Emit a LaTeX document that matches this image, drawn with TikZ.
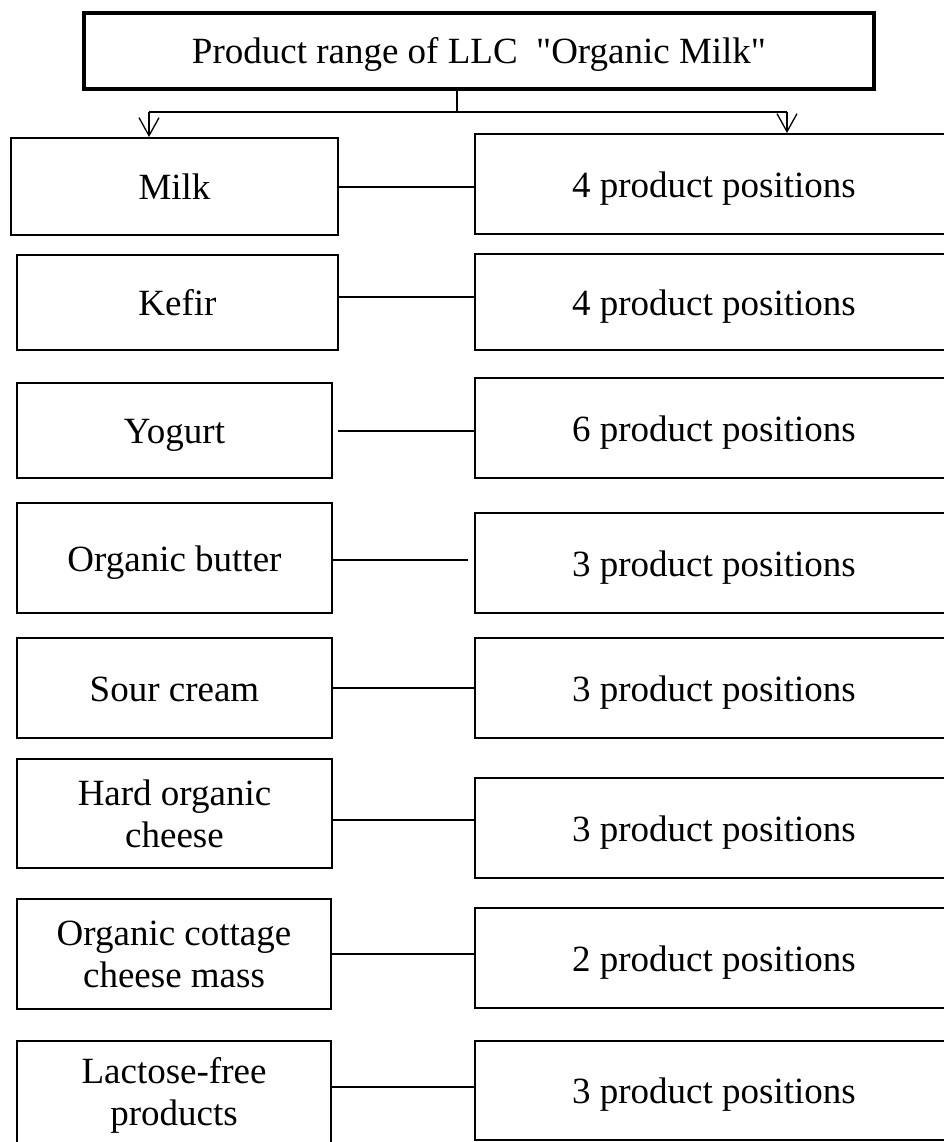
\documentclass[tikz,border=0pt]{standalone}
\usepackage{fontspec}
\setmainfont{Liberation Serif}[Ligatures=TeXOff]
\usetikzlibrary{arrows.meta}
\begin{document}
\begin{tikzpicture}[x=1pt,y=-1pt,
  every node/.style={font=\fontsize{37}{42}\selectfont, align=center, inner sep=0pt},
  oneline/.style={text height=26pt, text depth=0pt},
  box/.style={draw, line width=2pt},
  titlebox/.style={draw, line width=3.5pt, oneline},
  catbox/.style={box, minimum width=315pt},
  posbox/.style={box, oneline, minimum width=478pt, minimum height=100pt},
  link/.style={line width=1.3pt},
  arr/.style={link, -{Straight Barb[length=18pt,width=20pt]}}]
\useasboundingbox (0,0) rectangle (944,1142);
\clip (0,0) rectangle (944,1142);

% heading
\node[titlebox, minimum width=790pt, minimum height=76pt] (title) at (479,51)
  {Product range of LLC~~"Organic Milk"};

% product groups
\node[box, oneline, minimum width=327pt, minimum height=97pt] (milk) at (174.5,186.5) {Milk};
\node[box, oneline, minimum width=321pt, minimum height=95pt] (kefir) at (177.5,302.5) {Kefir};
\node[catbox, oneline, minimum height=95pt] (yogurt) at (174.5,430.5) {Yogurt};
\node[catbox, oneline, minimum height=110pt] (butter) at (174.5,558) {Organic butter};
\node[catbox, oneline, minimum height=100pt] (sour) at (174.5,688) {Sour cream};
\node[catbox, minimum height=109pt] (hard) at (174.5,813.5) {Hard organic\\cheese};
\node[catbox, minimum width=314pt, minimum height=110pt] (cottage) at (174,954) {Organic cottage\\cheese mass};
\node[catbox, minimum width=314pt, minimum height=108pt] (lactose) at (174,1095) {Lactose-free\\products};

% number of positions
\node[posbox] (pos1) at (714,184) {4 product positions};
\node[posbox, minimum height=96pt] (pos2) at (714,302) {4 product positions};
\node[posbox] (pos3) at (714,428) {6 product positions};
\node[posbox] (pos4) at (714,563) {3 product positions};
\node[posbox] (pos5) at (714,688) {3 product positions};
\node[posbox] (pos6) at (714,828) {3 product positions};
\node[posbox] (pos7) at (714,958) {2 product positions};
\node[posbox, minimum height=99pt] (pos8) at (714,1090.5) {3 product positions};

% branching from the heading
\coordinate (j) at (457,112);
\coordinate (jl) at (149,112);
\coordinate (jr) at (787,112);
\draw[link] (title.south -| j) -- (j);
\draw[link] (jl) -- (jr);
\draw[arr] (jl) -- (jl |- milk.north);
\draw[arr] (jr) -- (jr |- pos1.north);

% group to positions
\draw[link] ([yshift=-0.5pt]milk.east) -- ([yshift=-0.5pt]milk.east -| pos1.west);
\draw[link] ([yshift=5.5pt]kefir.east) -- ([yshift=5.5pt]kefir.east -| pos2.west);
\draw[link, shorten <=5pt] ([yshift=-0.5pt]yogurt.east) -- ([yshift=-0.5pt]yogurt.east -| pos3.west);
\draw[link, shorten >=6pt] ([yshift=-2pt]butter.east) -- ([yshift=-2pt]butter.east -| pos4.west);
\draw[link] (sour.east) -- (sour.east -| pos5.west);
\draw[link] ([yshift=-6.5pt]hard.east) -- ([yshift=-6.5pt]hard.east -| pos6.west);
\draw[link] (cottage.east) -- (cottage.east -| pos7.west);
\draw[link] ([yshift=8pt]lactose.east) -- ([yshift=8pt]lactose.east -| pos8.west);
\end{tikzpicture}
\end{document}
